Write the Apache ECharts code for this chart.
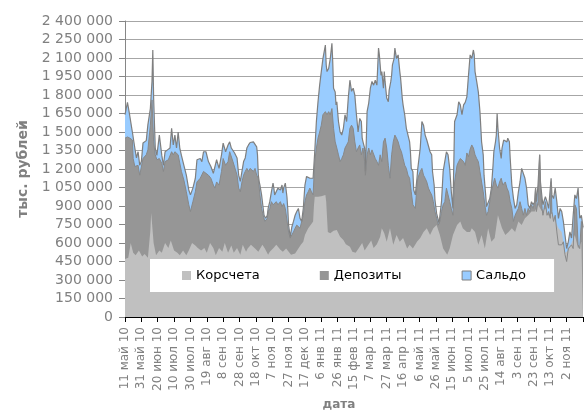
<!DOCTYPE html>
<html>
<head>
<meta charset="utf-8">
<script src="https://cdn.jsdelivr.net/npm/echarts@6/dist/echarts.min.js"></script>
<style>
  html, body { margin: 0; padding: 0; background: #fff; }
  #chart { width: 585px; height: 414px; }
</style>
</head>
<body>
<div id="chart"></div>
<script>
// подписи оси X (каждые 20 дней, начиная с 11 мая 2010)
const dateLabels = ['11 май 10', '31 май 10', '20 июн 10', '10 июл 10', '30 июл 10', '19 авг 10', '8 сен 10',
  '28 сен 10', '18 окт 10', '7 ноя 10', '27 ноя 10', '17 дек 10', '6 янв 11', '26 янв 11', '15 фев 11',
  '7 мар 11', '27 мар 11', '16 апр 11', '6 май 11', '26 май 11', '15 июн 11', '5 июл 11', '25 июл 11',
  '14 авг 11', '3 сен 11', '23 сен 11', '13 окт 11', '2 ноя 11']

// Сальдо: день от 11.05.2010 и значение, тыс. руб. / 1000
const saldoDays = [0, 3, 5, 7, 9, 10, 12, 14, 16, 18,
  20, 22, 26, 28, 31, 33, 34, 35, 37, 39,
  42, 45, 47, 49, 52, 55, 57, 59, 61, 63,
  65, 67, 69, 72, 75, 78, 80, 83, 86, 88,
  92, 94, 96, 99, 102, 105, 108, 110, 112, 115,
  118, 120, 123, 126, 128, 130, 132, 134, 137, 139,
  141, 143, 145, 147, 149, 151, 153, 157, 159, 161,
  162, 163, 164, 165, 167, 169, 170, 172, 174, 175,
  177, 179, 181, 182, 183, 185, 187, 190, 192, 193,
  194, 196, 198, 199, 200, 202, 204, 206, 208, 210,
  212, 214, 216, 218, 220, 222, 224, 226, 228, 230,
  232, 234, 236, 238, 240, 242, 245, 246, 247, 249,
  251, 253, 254, 255, 257, 258, 259, 261, 263, 265,
  267, 269, 271, 273, 275, 277, 279, 281, 283, 285,
  287, 289, 290, 291, 293, 294, 296, 298, 300, 302,
  304, 306, 308, 310, 311, 313, 314, 316, 317, 318,
  320, 322, 323, 325, 326, 327, 329, 330, 332, 334,
  336, 337, 339, 340, 342, 344, 346, 348, 349, 350,
  352, 353, 355, 357, 358, 361, 363, 365, 367, 369,
  371, 373, 375, 376, 378, 379, 381, 382, 384, 385,
  387, 389, 391, 393, 395, 397, 399, 401, 403, 406,
  408, 410, 412, 414, 416, 418, 420, 422, 424, 426,
  427, 428, 430, 432, 434, 436, 438, 439, 441, 442,
  444, 446, 448, 450, 451, 453, 454, 455, 456, 458,
  460, 461, 463, 465, 467, 468, 470, 471, 473, 475,
  477, 479, 481, 483, 485, 487, 489, 491, 493, 495,
  497, 499, 501, 502, 503, 505, 507, 508, 510, 511,
  514, 516, 518, 520, 521, 522, 524, 526, 528, 530,
  532, 534, 536, 538, 540, 542, 544, 546, 548, 550,
  552, 554, 556, 558, 560]
const saldo = [1640, 1740, 1665, 1665, 1500, 1490, 1370, 1290, 1340, 1230,
  1260, 1410, 1430, 1560, 1690, 1910, 2165, 1775, 1370, 1310,
  1475, 1310, 1230, 1340, 1355, 1370, 1530, 1395, 1475, 1370,
  1500, 1370, 1310, 1230, 1150, 1030, 990, 1045, 1125, 1275,
  1285, 1260, 1340, 1340, 1260, 1220, 1165, 1180, 1275, 1205,
  1315, 1410, 1340, 1395, 1420, 1370, 1380, 1330, 1290, 1150,
  1100, 1180, 1260, 1290, 1370, 1395, 1415, 1420, 1410, 1380,
  1315, 1150, 1100, 1070, 990, 880, 825, 800, 825, 880,
  935, 1015, 1085, 1045, 990, 975, 1045, 1030, 1070, 1005,
  1045, 1085, 975, 880, 745, 650, 730, 775, 825, 855,
  880, 800, 775, 880, 1070, 1140, 1150, 1125, 1110, 1125,
  1340, 1585, 1745, 1880, 1990, 2095, 2205, 2045, 1990, 2015,
  2095, 2220, 2070, 1855, 1825, 1720, 1745, 1585, 1500, 1475,
  1530, 1640, 1585, 1775, 1920, 1830, 1855, 1800, 1640, 1500,
  1610, 1585, 1450, 1420, 1370, 1180, 1665, 1735, 1855, 1910,
  1880, 1920, 1880, 2180, 2125, 1960, 1990, 1855, 1990, 1910,
  1775, 1745, 1840, 1910, 1960, 2045, 2095, 2180, 2095, 2125,
  1990, 1935, 1775, 1720, 1640, 1530, 1515, 1420, 1340, 1205,
  1180, 1030, 990, 1125, 1205, 1370, 1585, 1555, 1475, 1435,
  1420, 1340, 1315, 1180, 1070, 950, 840, 825, 760, 775,
  935, 1180, 1260, 1340, 1315, 1205, 1015, 880, 1585, 1640,
  1745, 1720, 1640, 1720, 1740, 1785, 1960, 2125, 2095, 2165,
  2125, 1990, 1910, 1825, 1665, 1420, 1315, 1150, 990, 895,
  910, 960, 1045, 1230, 1340, 1420, 1475, 1650, 1530, 1370,
  1285, 1370, 1435, 1450, 1420, 1450, 1420, 1285, 1070, 960,
  880, 910, 1015, 1095, 1205, 1205, 1125, 1045, 910, 880,
  935, 910, 935, 1045, 935, 1070, 1315, 1095, 960, 910,
  975, 935, 880, 1045, 1125, 990, 960, 1045, 935, 800,
  880, 855, 775, 665, 555, 610, 690, 640, 825, 990,
  960, 1045, 800, 825, 730]

// Депозиты
const depDays = [0, 3, 6, 9, 10, 12, 14, 16, 18, 20,
  22, 26, 28, 31, 33, 34, 35, 37, 39, 42,
  45, 47, 49, 53, 57, 59, 61, 65, 69, 72,
  75, 78, 80, 83, 86, 88, 92, 96, 99, 102,
  105, 108, 110, 112, 115, 118, 120, 123, 126, 128,
  132, 137, 139, 141, 143, 145, 147, 149, 151, 153,
  157, 159, 161, 163, 165, 167, 169, 171, 174, 175,
  177, 179, 181, 183, 185, 187, 190, 192, 194, 196,
  198, 200, 202, 204, 206, 208, 210, 212, 214, 216,
  218, 220, 222, 224, 226, 228, 230, 232, 234, 236,
  238, 240, 242, 245, 247, 249, 251, 253, 255, 257,
  259, 261, 263, 265, 267, 269, 271, 273, 275, 277,
  279, 281, 283, 285, 287, 289, 291, 293, 294, 296,
  298, 300, 302, 304, 306, 308, 310, 312, 314, 316,
  318, 320, 322, 324, 326, 328, 330, 332, 334, 336,
  338, 340, 342, 344, 346, 348, 350, 352, 355, 357,
  358, 361, 363, 365, 367, 369, 371, 373, 375, 377,
  379, 381, 383, 385, 387, 389, 391, 393, 395, 397,
  399, 401, 403, 406, 408, 410, 414, 416, 418, 420,
  422, 424, 426, 428, 430, 432, 434, 436, 438, 440,
  442, 444, 446, 448, 450, 452, 454, 456, 458, 460,
  462, 465, 467, 469, 471, 473, 475, 477, 479, 481,
  483, 485, 487, 489, 491, 493, 495, 497, 499, 501,
  502, 503, 505, 507, 508, 510, 511, 514, 516, 518,
  520, 521, 522, 524, 526, 528, 530, 532, 534, 536,
  538, 540, 542, 544, 546, 548, 550, 552, 554, 556,
  558, 560]
const dep = [1450, 1460, 1450, 1435, 1285, 1220, 1205, 1230, 1150, 1165,
  1285, 1315, 1355, 1555, 1760, 1775, 1420, 1315, 1275, 1285,
  1245, 1180, 1260, 1275, 1340, 1315, 1340, 1315, 1180, 1110,
  1015, 910, 855, 935, 1015, 1095, 1125, 1180, 1165, 1150,
  1125, 1070, 1045, 1095, 1070, 1180, 1285, 1230, 1260, 1340,
  1260, 1150, 1045, 1015, 1095, 1150, 1180, 1205, 1180, 1205,
  1180, 1205, 1150, 1125, 990, 880, 825, 775, 800, 855,
  880, 935, 910, 910, 935, 910, 935, 895, 920, 880,
  880, 690, 640, 665, 690, 720, 745, 745, 720, 720,
  825, 935, 990, 1015, 1045, 1015, 990, 1260, 1370, 1450,
  1500, 1555, 1640, 1665, 1640, 1665, 1640, 1690, 1530, 1420,
  1370, 1315, 1260, 1285, 1315, 1370, 1395, 1420, 1530, 1555,
  1530, 1420, 1340, 1370, 1395, 1315, 1370, 1260, 1150, 1315,
  1370, 1315, 1355, 1340, 1285, 1260, 1230, 1315, 1260, 1420,
  1450, 1370, 1230, 1125, 1315, 1420, 1475, 1450, 1420, 1370,
  1340, 1285, 1230, 1205, 1150, 1125, 1015, 910, 880, 1070,
  1125, 1180, 1205, 1150, 1125, 1095, 1045, 1015, 990, 935,
  855, 800, 745, 775, 855, 910, 935, 1045, 1045, 935,
  880, 825, 1095, 1230, 1260, 1285, 1260, 1230, 1330, 1300,
  1360, 1395, 1370, 1315, 1285, 1260, 1180, 1095, 1015, 910,
  825, 855, 935, 1015, 1070, 1125, 1070, 1045, 1095, 1125,
  1070, 1095, 1045, 1015, 935, 880, 775, 825, 855, 880,
  935, 880, 825, 880, 825, 880, 855, 910, 880, 935,
  1045, 855, 935, 1315, 1045, 880, 825, 935, 825, 855,
  800, 1095, 855, 775, 825, 690, 585, 585, 585, 610,
  505, 450, 555, 555, 585, 555, 910, 880, 585, 555,
  775, 720]

// Корсчета
const korDays = [0, 4, 7, 10, 13, 17, 21, 24, 28, 31,
  32, 34, 35, 38, 42, 45, 49, 53, 56, 60,
  64, 67, 71, 75, 78, 82, 86, 89, 93, 97,
  100, 104, 108, 111, 115, 119, 122, 126, 130, 133,
  137, 141, 144, 148, 150, 154, 159, 163, 168, 171,
  175, 177, 181, 185, 190, 193, 197, 199, 203, 208,
  212, 215, 218, 220, 224, 227, 230, 231, 232, 236,
  240, 245, 246, 248, 251, 255, 259, 263, 267, 270,
  275, 278, 282, 286, 290, 293, 297, 301, 304, 308,
  312, 314, 317, 320, 324, 328, 332, 336, 340, 345,
  348, 352, 357, 361, 365, 369, 373, 377, 381, 385,
  389, 394, 397, 401, 406, 410, 413, 418, 422, 424,
  428, 432, 436, 440, 444, 448, 452, 456, 461, 465,
  469, 473, 477, 481, 485, 489, 493, 497, 501, 505,
  510, 514, 518, 522, 526, 530, 534, 538, 542, 546,
  550, 554, 558, 560]
const kor = [470, 480, 600, 520, 500, 540, 490, 510, 480, 700,
  845, 840, 600, 500, 540, 520, 600, 560, 620, 540,
  520, 500, 540, 500, 540, 600, 580, 560, 540, 560,
  520, 600, 560, 500, 560, 530, 600, 520, 580, 520,
  560, 505, 585, 530, 555, 585, 555, 530, 585, 555,
  505, 530, 555, 585, 545, 530, 555, 555, 505, 515,
  555, 585, 610, 665, 720, 745, 775, 900, 975, 975,
  980, 990, 935, 690, 680, 700, 705, 650, 625, 590,
  570, 530, 520, 560, 600, 540, 580, 620, 560, 590,
  650, 720, 680, 610, 720, 585, 665, 610, 640, 555,
  585, 555, 610, 640, 690, 720, 665, 720, 745, 665,
  555, 505, 555, 665, 745, 775, 720, 690, 690, 720,
  690, 585, 665, 555, 720, 610, 640, 825, 720, 665,
  690, 720, 690, 775, 745, 800, 825, 855, 855, 910,
  855, 880, 820, 840, 780, 720, 690, 520, 540, 600,
  665, 555, 610, 610]

const pairs = (days, vals) => days.map((d, i) => [d, vals[i] * 1000])
const fmtThousands = v => String(v).replace(/\B(?=(\d{3})+(?!\d))/g, ' ')
const font = 'DejaVu Sans'

const myChart = echarts.init(document.getElementById('chart'))
myChart.setOption({
  animation: false,
  backgroundColor: '#fff',
  grid: { left: 125, right: 2, top: 21, bottom: 97, containLabel: false, outerBoundsMode: 'none' },
  legend: {
    data: [
      { name: 'Корсчета', itemStyle: { color: '#c0c0c0', borderWidth: 0 } },
      { name: 'Депозиты', itemStyle: { color: '#969696', borderWidth: 0 } },
      { name: 'Сальдо', itemStyle: { color: '#99ccff', borderColor: '#808080', borderWidth: 1 } }
    ],
    left: 150,
    top: 259,
    icon: 'rect',
    itemWidth: 9,
    itemHeight: 9,
    itemGap: 60,
    padding: [10, 28, 10, 32],
    backgroundColor: '#fff',
    selectedMode: false,
    textStyle: { color: '#000', fontSize: 13, fontFamily: font }
  },
  xAxis: {
    type: 'value',
    min: 0,
    max: 560,
    interval: 20,
    name: 'дата',
    nameLocation: 'middle',
    nameGap: 82,
    nameTextStyle: { color: '#808080', fontWeight: 'bold', fontSize: 12, fontFamily: font, padding: [0, 30, 0, 0] },
    axisLine: { show: true, onZero: false, lineStyle: { color: '#000' } },
    axisTick: { show: true, length: 5, lineStyle: { color: '#000' } },
    splitLine: { show: false },
    axisLabel: {
      rotate: 90,
      margin: 10,
      color: '#808080',
      fontSize: 12,
      fontFamily: font,
      showMaxLabel: true,
      formatter: v => dateLabels[Math.round(v / 20)] || ''
    }
  },
  yAxis: {
    type: 'value',
    min: 0,
    max: 2400000,
    interval: 150000,
    name: 'тыс. рублей',
    nameLocation: 'middle',
    nameGap: 87,
    nameTextStyle: { color: '#808080', fontWeight: 'bold', fontSize: 14, fontFamily: font },
    axisLine: { show: true, lineStyle: { color: '#868686' } },
    axisTick: { show: true, length: 6, lineStyle: { color: '#868686' } },
    splitLine: { show: true, lineStyle: { color: '#a6a6a6', width: 1 } },
    axisLabel: { margin: 12, color: '#808080', fontSize: 14, fontFamily: font, formatter: fmtThousands }
  },
  series: [
    {
      name: 'Сальдо',
      type: 'line',
      symbol: 'none',
      data: pairs(saldoDays, saldo),
      itemStyle: { color: '#99ccff' },
      lineStyle: { color: '#7f7f7f', width: 1.2 },
      areaStyle: { color: '#99ccff', opacity: 1 },
      emphasis: { disabled: true }
    },
    {
      name: 'Депозиты',
      type: 'line',
      symbol: 'none',
      data: pairs(depDays, dep),
      itemStyle: { color: '#969696' },
      lineStyle: { color: '#888888', width: 1 },
      areaStyle: { color: '#969696', opacity: 1 },
      emphasis: { disabled: true }
    },
    {
      name: 'Корсчета',
      type: 'line',
      symbol: 'none',
      data: pairs(korDays, kor),
      itemStyle: { color: '#c0c0c0' },
      lineStyle: { width: 0 },
      areaStyle: { color: '#c0c0c0', opacity: 1 },
      emphasis: { disabled: true }
    }
  ]
})
</script>
</body>
</html>
